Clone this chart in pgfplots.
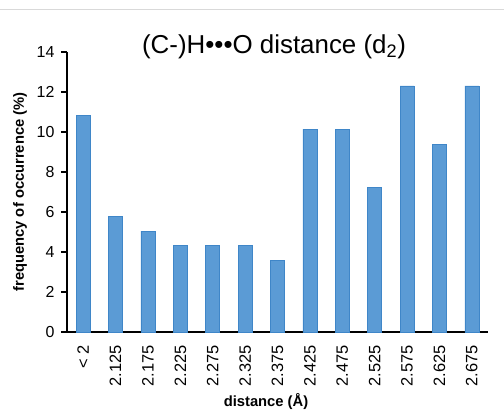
\documentclass[border=0pt]{standalone}
\usepackage{fontspec}
\setmainfont{Liberation Sans}
\usepackage{pgfplots}
\pgfplotsset{compat=1.18}
\definecolor{barfill}{HTML}{5B9BD5}
\definecolor{baredge}{HTML}{3F86C8}
\definecolor{frame}{HTML}{D9D9D9}
\begin{document}
\begin{tikzpicture}[x=1bp,y=1bp]
\useasboundingbox (0,0) rectangle (504,415);
\fill[white] (0,0) rectangle (504,415);
\draw[frame, line width=1bp] (0,405) -- (504,405);
\begin{axis}[
    at={(67bp,83bp)}, anchor=south west,
    scale only axis,
    width=421bp, height=280bp,
    xmin=-0.5, xmax=12.5,
    ymin=0, ymax=14,
    axis x line*=bottom, axis y line*=left,
    axis line style={line width=1.6bp, black, -},
    ybar, bar width=14bp,
    xtick={0,...,12},
    xticklabels={< 2,2.125,2.175,2.225,2.275,2.325,2.375,2.425,2.475,2.525,2.575,2.625,2.675},
    x tick style={draw=none},
    minor xtick={-0.5,0.5,...,12.5},
    minor x tick style={black, line width=1.3bp},
    minor tick length=6bp,
    ytick={0,2,...,14},
    y tick style={black, line width=1.3bp},
    major tick length=6bp,
    tick align=outside,
    x tick label style={rotate=90, anchor=east, font=\fontsize{16.5}{16.5}\selectfont, xshift=-4bp},
    y tick label style={font=\fontsize{16}{16}\selectfont, xshift=-3bp},
    /pgf/number format/assume math mode=true,
    clip=false,
]
\addplot[fill=barfill, draw=baredge, line width=0.6bp] coordinates {
(0,10.85) (1,5.8) (2,5.05) (3,4.35) (4,4.35) (5,4.35) (6,3.6)
(7,10.15) (8,10.15) (9,7.25) (10,12.3) (11,9.4) (12,12.3)};
\end{axis}
\node[font=\fontsize{26}{26}\selectfont] at (274,368) {(C-)H•••O distance (d\textsubscript{2})};
\node[font=\fontsize{14.8}{14.8}\selectfont\bfseries] at (266,13) {distance (Å)};
\node[font=\fontsize{14.8}{14.8}\selectfont\bfseries, rotate=90] at (20,223) {frequency of occurrence (\%)};
\end{tikzpicture}
\end{document}
